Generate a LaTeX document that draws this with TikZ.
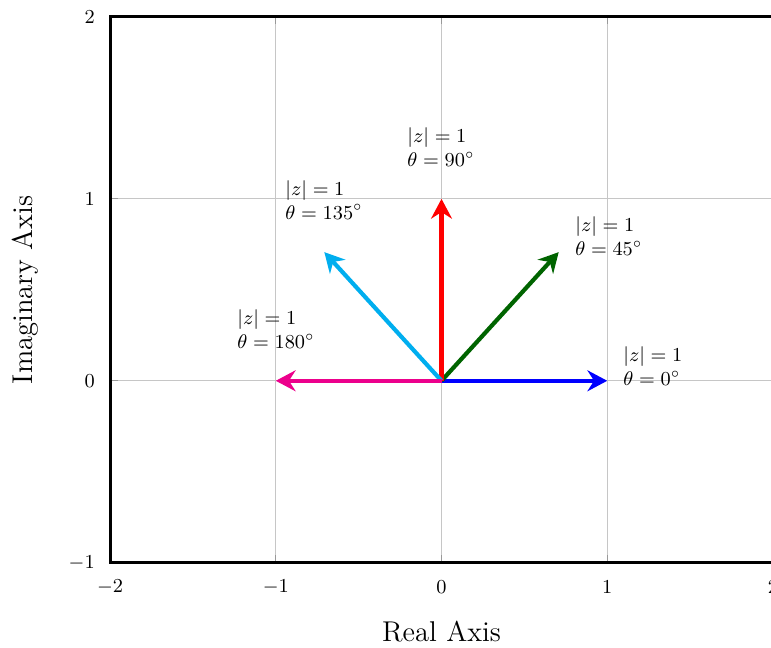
\documentclass[tikz,border=0pt]{standalone}
\usepackage{amsmath,amssymb}
\usepackage{xcolor}
\usetikzlibrary{arrows.meta}
\definecolor{zcyan}{RGB}{0,174,239}
\definecolor{zmagenta}{RGB}{236,0,140}
\definecolor{zgreen}{RGB}{0,100,0}

\begin{document}
\begin{tikzpicture}[x=2.648cm,y=2.907cm,
  vec/.style={line width=1.9pt,-{Stealth[length=9pt,width=9.5pt,inset=3pt]}},
  lbl/.style={anchor=west,align=left,inner sep=0pt,font=\small}]
\useasboundingbox (-2.664,-1.467) rectangle (1.988,2.093);
\foreach \x in {-1,0,1} \draw[gray!45] (\x,-1) -- (\x,2);
\foreach \y in {0,1} \draw[gray!45] (-2,\y) -- (2,\y);
\foreach \x in {-1,0,1} {
  \draw[gray!80] (\x,-1) -- ++(0,0.04);
  \draw[gray!80] (\x,2) -- ++(0,-0.04);
}
\foreach \y in {0,1} \draw[gray!80] (-2,\y) -- ++(0.05,0);
\draw[line width=1.4pt] (-2,-1) rectangle (2,2);
\foreach \x [count=\i] in {-2,-1,0,1,2}
  \node[font=\small] (xtick\i) at (\x,-1.132) {$\x$};
\foreach \y [count=\i] in {-1,0,1,2}
  \node[font=\small,anchor=east,inner sep=0pt] (ytick\i) at (-2.09,\y) {$\y$};
\node[font=\fontsize{13}{15}\selectfont] (xlabel) at (0,-1.38) {Real Axis};
\node[font=\fontsize{13}{15}\selectfont,rotate=90] (ylabel) at (-2.513,0.5) {Imaginary Axis};
\coordinate (o) at (0,0);
\coordinate (z0) at (1,0);
\coordinate (z45) at (0.7071,0.7071);
\coordinate (z90) at (0,1);
\coordinate (z135) at (-0.7071,0.7071);
\coordinate (z180) at (-1,0);
\draw[vec,blue] (o) -- (z0);
\draw[vec,zgreen] (o) -- (z45);
\draw[vec,red] (o) -- (z90);
\draw[vec,zcyan] (o) -- (z135);
\draw[vec,zmagenta] (o) -- (z180);
\node[lbl] (l0) at (1.095,0.08) {$|z| = 1$\\$\theta = 0^\circ$};
\node[lbl] (l45) at (0.805,0.794) {$|z| = 1$\\$\theta = 45^\circ$};
\node[lbl] (l90) at (-0.208,1.283) {$|z| = 1$\\$\theta = 90^\circ$};
\node[lbl] (l135) at (-0.944,0.995) {$|z| = 1$\\$\theta = 135^\circ$};
\node[lbl] (l180) at (-1.234,0.283) {$|z| = 1$\\$\theta = 180^\circ$};
\end{tikzpicture}
\end{document}
